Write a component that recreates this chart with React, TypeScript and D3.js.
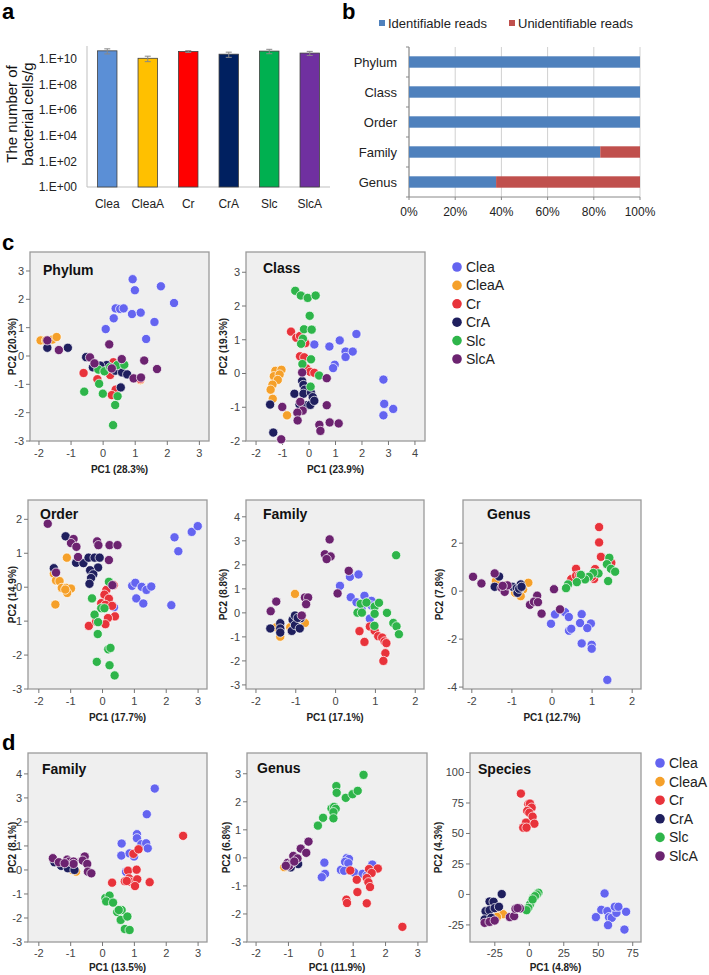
import React from "react";
import * as d3 from "d3";

// ---------- data ----------
const groups = ["Clea", "CleaA", "Cr", "CrA", "Slc", "SlcA"];
const scatterColors = ["#6464F0", "#F5A02A", "#E8333B", "#1F1F5E", "#2EB54A", "#6C2370"];
const barColors = ["#5B8FD6", "#FFC000", "#FF0000", "#002060", "#00B050", "#7030A0"];

// panel a
const cellCounts = [4.2e10, 1.1e10, 3.7e10, 2.3e10, 4.0e10, 2.8e10];
const cellErrors = [1.8e10, 0.5e10, 0.6e10, 1.0e10, 1.5e10, 1.0e10];
const logTicks = [1, 1e2, 1e4, 1e6, 1e8, 1e10];
const logTickLabels = ["1.E+00", "1.E+02", "1.E+04", "1.E+06", "1.E+08", "1.E+10"];

// panel b
const levels = ["Phylum", "Class", "Order", "Family", "Genus"];
const identifiable = [100, 100, 100, 82.8, 37.7];
const unidentifiable = [0, 0, 0, 17.2, 62.3];
const pctTicks = [0, 20, 40, 60, 80, 100];

type P = [string, number, number];

const phylumPoints: P[] = [
  ["Clea", 0.92, 2.71], ["Clea", 0.99, 2.32], ["Clea", 1.8, 2.46], ["Clea", 2.21, 1.87], ["Clea", 0.39, 1.68], ["Clea", 0.53, 1.66], ["Clea", 0.64, 1.68], ["Clea", 0.9, 1.48], ["Clea", 1.17, 1.53], ["Clea", 0.33, 1.33], ["Clea", 1.6, 1.2], ["Clea", 0.08, 0.95], ["Clea", 1.34, 0.6],
  ["CleaA", -1.95, 0.55], ["CleaA", -1.78, 0.55], ["CleaA", -1.58, 0.58], ["CleaA", -1.45, 0.67], ["CleaA", 1.16, -0.85],
  ["Cr", -0.61, -0.6], ["Cr", -0.18, -0.82], ["Cr", -0.09, -0.34], ["Cr", 0.22, -0.67], ["Cr", 0.32, -0.22], ["Cr", 0.39, -1.19], ["Cr", 0.27, -1.38], ["Cr", 1.16, -0.81], ["Cr", 0.48, -0.4],
  ["CrA", -1.74, 0.29], ["CrA", -1.1, 0.29], ["CrA", -0.53, -0.04], ["CrA", -0.32, -0.4], ["CrA", 0.11, -0.32], ["CrA", 0.38, -0.52], ["CrA", 0.59, -0.58], ["CrA", 0.75, -0.65], ["CrA", 0.55, -1.11], ["CrA", -0.09, -0.34],
  ["Slc", -0.15, -0.48], ["Slc", 0.04, -0.54], ["Slc", 0.44, -0.32], ["Slc", 0.66, -0.31], ["Slc", -0.125, -0.98], ["Slc", -0.59, -1.26], ["Slc", -0.01, -1.33], ["Slc", 0.45, -1.42], ["Slc", 0.375, -1.73], ["Slc", 0.31, -2.44], ["Slc", 0.22, -0.4],
  ["SlcA", -1.74, 0.55], ["SlcA", -1.38, 0.21], ["SlcA", 0.19, 0.41], ["SlcA", -0.41, -0.05], ["SlcA", -0.27, -0.26], ["SlcA", 0.58, -0.11], ["SlcA", 1.28, -0.16], ["SlcA", 1.68, -0.46], ["SlcA", 0.95, -0.79], ["SlcA", 1.18, -0.76], ["SlcA", 0.27, -0.44],
];

const classPoints: P[] = [
  ["Clea", 0.2, 0.86], ["Clea", 0.77, 0.8], ["Clea", 1.16, 0.98], ["Clea", 1.38, 0.65], ["Clea", 1.38, 0.49], ["Clea", 1.65, 0.65], ["Clea", 1.79, 1.17], ["Clea", 0.97, 0.26], ["Clea", 0.91, 0.16], ["Clea", 2.81, -0.18], ["Clea", 2.84, -0.9], ["Clea", 3.18, -1.05], ["Clea", 2.81, -1.24],
  ["CleaA", -1.27, 0.08], ["CleaA", -1.04, 0.11], ["CleaA", -1.33, -0.08], ["CleaA", -1.11, -0.03], ["CleaA", -1.18, -0.19], ["CleaA", -1.38, -0.33], ["CleaA", -1.45, -0.48], ["CleaA", -1.37, -0.75], ["CleaA", -0.83, -1.24],
  ["Cr", -0.68, 1.24], ["Cr", -0.48, 1.06], ["Cr", -0.34, 1.11], ["Cr", -0.14, 0.9], ["Cr", -0.34, 0.51], ["Cr", -0.18, 0.48], ["Cr", -0.1, 0.15], ["Cr", 0.04, 0.05], ["Cr", 0.2, 0.02],
  ["CrA", -1.47, -0.92], ["CrA", -0.55, -0.6], ["CrA", -0.26, -0.22], ["CrA", -0.21, -0.34], ["CrA", -0.16, -0.48], ["CrA", -0.21, -0.6], ["CrA", 0.075, -0.57], ["CrA", 0.14, -0.7], ["CrA", -0.36, -0.92], ["CrA", -0.09, -0.94], ["CrA", 0.05, -0.93], ["CrA", 0.2, -0.81], ["CrA", -1.35, -1.75],
  ["Slc", -0.52, 2.45], ["Slc", -0.31, 2.31], ["Slc", -0.05, 2.24], ["Slc", 0.25, 2.31], ["Slc", 0.025, 1.71], ["Slc", -0.19, 1.31], ["Slc", 0.1, 1.3], ["Slc", -0.23, 1.03], ["Slc", -0.3, 0.88], ["Slc", 0.075, 0.42], ["Slc", -0.25, 0.28], ["Slc", 0.38, -0.06], ["Slc", 0.06, -0.39],
  ["SlcA", -0.26, 0.03], ["SlcA", 0.67, -0.14], ["SlcA", -1.01, -0.99], ["SlcA", -0.33, -0.84], ["SlcA", -0.24, -1.1], ["SlcA", -0.44, -1.16], ["SlcA", -0.43, -1.39], ["SlcA", 0.67, -0.94], ["SlcA", 0.39, -1.52], ["SlcA", 0.78, -1.45], ["SlcA", 1.12, -1.48], ["SlcA", -1.05, -1.95], ["SlcA", 0.43, -1.7],
];

const orderPoints: P[] = [
  ["Clea", 0.93, 0.04], ["Clea", 1.03, 0.13], ["Clea", 1.23, 0.01], ["Clea", 1.38, -0.08], ["Clea", 1.53, 0.02], ["Clea", 1.06, -0.33], ["Clea", 1.28, -0.48], ["Clea", 2.16, -0.53], ["Clea", 2.26, 1.47], ["Clea", 2.38, 1.06], ["Clea", 2.8, 1.63], ["Clea", 2.99, 1.8], ["Clea", 0.36, -0.59],
  ["CleaA", -1.12, 0.87], ["CleaA", -1.53, 0.4], ["CleaA", -1.46, 0.2], ["CleaA", -1.35, 0.18], ["CleaA", -1.28, -0.02], ["CleaA", -1.14, -0.02], ["CleaA", -0.99, -0.04], ["CleaA", -1.11, -0.17], ["CleaA", -1.17, -0.07], ["CleaA", -1.48, -0.51],
  ["Cr", 0.12, -0.08], ["Cr", 0.06, -0.22], ["Cr", 0.2, -0.34], ["Cr", -0.04, -0.47], ["Cr", 0.09, -0.52], ["Cr", 0.3, -0.55], ["Cr", 0.39, -0.86], ["Cr", 0.17, -0.91], ["Cr", 0.09, -1.09], ["Cr", -0.43, -1.14], ["Cr", -0.2, -1.01], ["Cr", 0.35, 0.06],
  ["CrA", -1.16, 1.5], ["CrA", -1.53, 0.56], ["CrA", -0.83, 0.72], ["CrA", -0.6, 0.71], ["CrA", -0.44, 0.87], ["CrA", -0.25, 0.87], ["CrA", -0.09, 0.87], ["CrA", -0.14, 0.58], ["CrA", -0.39, 0.5], ["CrA", -0.29, 0.38], ["CrA", -0.36, 0.27], ["CrA", -0.41, 0.1],
  ["Slc", 0.2, 0.16], ["Slc", -0.33, -0.33], ["Slc", -0.04, -0.62], ["Slc", 0.06, -0.62], ["Slc", -0.25, -0.81], ["Slc", -0.14, -1.03], ["Slc", -0.15, -1.38], ["Slc", 0.18, -1.83], ["Slc", 0.25, -1.79], ["Slc", -0.18, -2.2], ["Slc", 0.22, -2.3], ["Slc", 0.38, -2.6],
  ["SlcA", -1.72, 1.87], ["SlcA", -0.91, 1.42], ["SlcA", -0.99, 1.3], ["SlcA", -0.82, 1.19], ["SlcA", -0.77, 0.89], ["SlcA", -0.17, 1.35], ["SlcA", -0.13, 1.24], ["SlcA", 0.22, 1.24], ["SlcA", 0.47, 1.24], ["SlcA", 0.2, 0.8], ["SlcA", -1.46, 0.43], ["SlcA", 0.31, 0.06],
];

const familyCPoints: P[] = [
  ["Clea", 0.36, 1.5], ["Clea", 0.575, 1.6], ["Clea", 0.11, 1.125], ["Clea", 0.38, 0.65], ["Clea", 0.525, 0.44], ["Clea", 0.725, 0.71], ["Clea", 0.8, 0.43], ["Clea", 0.9, 0.5], ["Clea", 0.9, 0.31], ["Clea", 0.86, -0.24], ["Clea", 0.65, 0.19],
  ["CleaA", -1.02, 0.79], ["CleaA", -0.77, -0.42], ["CleaA", -0.95, -0.29], ["CleaA", -1.39, -0.99], ["CleaA", -1.49, -0.6], ["CleaA", -1.14, -0.6],
  ["Cr", 0.86, -0.57], ["Cr", 0.6, -0.76], ["Cr", 0.98, -0.74], ["Cr", 0.725, -1.21], ["Cr", 1.07, -0.97], ["Cr", 1.17, -1.03], ["Cr", 1.23, -1.19], ["Cr", 1.275, -1.26], ["Cr", 1.25, -1.68], ["Cr", 1.2, -2.0],
  ["CrA", -1.64, -0.65], ["CrA", -1.39, -0.43], ["CrA", -1.39, -0.65], ["CrA", -1.39, -0.82], ["CrA", -1.1, -0.75], ["CrA", -1.08, -0.29], ["CrA", -1.02, -0.11], ["CrA", -1.02, -0.51], ["CrA", -0.9, -0.65], ["CrA", -0.875, -0.22], ["CrA", -0.95, -0.21],
  ["Slc", 1.52, 2.4], ["Slc", 0.63, 0.375], ["Slc", 0.775, 0.43], ["Slc", 0.98, 0.26], ["Slc", 1.09, 0.42], ["Slc", 0.55, 0.01], ["Slc", 0.66, 0.01], ["Slc", 0.98, -0.04], ["Slc", 1.29, 0.0], ["Slc", 0.975, -0.54], ["Slc", 1.45, -0.42], ["Slc", 1.53, -0.56], ["Slc", 1.59, -0.89],
  ["SlcA", -0.15, 3.06], ["SlcA", -0.27, 2.44], ["SlcA", -0.125, 2.35], ["SlcA", -0.225, 2.24], ["SlcA", 0.33, 1.75], ["SlcA", 0.05, 0.81], ["SlcA", -1.49, 0.47], ["SlcA", -1.63, 0.07], ["SlcA", -0.77, 0.64], ["SlcA", -0.69, 0.64], ["SlcA", -0.74, 0.36], ["SlcA", -0.85, -0.11],
];

const genusCPoints: P[] = [
  ["Clea", 0.075, -0.97], ["Clea", -0.025, -1.36], ["Clea", 0.325, -0.875], ["Clea", 0.42, -1.08], ["Clea", 0.74, -0.96], ["Clea", 0.7, -1.33], ["Clea", 0.97, -1.35], ["Clea", 0.88, -1.54], ["Clea", 0.425, -1.65], ["Clea", 0.48, -1.57], ["Clea", 0.74, -2.18], ["Clea", 0.99, -2.24], ["Clea", 0.99, -2.4], ["Clea", 1.38, -3.7],
  ["CleaA", -1.4, 0.42], ["CleaA", -0.59, 0.35], ["CleaA", -0.72, 0.07], ["CleaA", -0.78, -0.21], ["CleaA", -0.92, -0.07], ["CleaA", -1.13, 0.25],
  ["Cr", 1.175, 2.67], ["Cr", 1.175, 2.03], ["Cr", 1.22, 1.43], ["Cr", 0.6, 0.93], ["Cr", 0.48, 0.5], ["Cr", 0.6, 0.64], ["Cr", 0.68, 0.67], ["Cr", 1.075, 0.92], ["Cr", 1.05, 0.51], ["Cr", 1.48, 1.18], ["Cr", 1.0, 0.6],
  ["CrA", -1.32, 0.61], ["CrA", -1.43, 0.18], ["CrA", -0.98, 0.18], ["CrA", -0.88, 0.125], ["CrA", -0.78, 0.28], ["CrA", -0.8, 0.11], ["CrA", -0.86, -0.07], ["CrA", -0.82, 0.1], ["CrA", -0.76, 0.18],
  ["Slc", 1.43, 1.39], ["Slc", 1.37, 1.125], ["Slc", 1.47, 0.93], ["Slc", 1.575, 0.81], ["Slc", 1.4, 0.42], ["Slc", 1.16, 0.74], ["Slc", 1.03, 0.76], ["Slc", 0.92, 0.6], ["Slc", 0.825, 0.49], ["Slc", 0.72, 0.68], ["Slc", 0.62, 0.375], ["Slc", 0.4, 0.28], ["Slc", 0.35, 0.125],
  ["SlcA", -1.97, 0.6], ["SlcA", -1.76, 0.32], ["SlcA", -1.43, 0.74], ["SlcA", -1.26, 0.14], ["SlcA", -1.18, -0.03], ["SlcA", -1.11, 0.24], ["SlcA", -0.37, -0.19], ["SlcA", -0.55, -0.57], ["SlcA", -0.45, -0.44], ["SlcA", -0.35, -0.46], ["SlcA", -0.26, -0.94], ["SlcA", 0.05, 0.08], ["SlcA", 0.2, -0.76], ["SlcA", -1.23, 0.22],
];

const familyDPoints: P[] = [
  ["Clea", 1.64, 3.39], ["Clea", 1.39, 2.32], ["Clea", 1.08, 1.49], ["Clea", 1.08, 1.32], ["Clea", 0.6, 1.1], ["Clea", 0.59, 0.6], ["Clea", 0.85, 0.69], ["Clea", 1.22, 1.07], ["Clea", 1.37, 1.11], ["Clea", 1.42, 0.9], ["Clea", 0.99, 0.56], ["Clea", 0.74, -0.08],
  ["CleaA", -0.83, -0.07], ["CleaA", -0.95, 0.0], ["CleaA", -1.04, 0.14],
  ["Cr", 2.53, 1.42], ["Cr", 0.97, 0.67], ["Cr", 1.13, 0.86], ["Cr", 0.8, -0.03], ["Cr", 1.07, 0.01], ["Cr", 0.3, -0.53], ["Cr", 0.7, -0.47], ["Cr", 0.83, -0.35], ["Cr", 0.87, -0.49], ["Cr", 0.76, -0.46], ["Cr", 1.09, -0.39], ["Cr", 1.02, -0.67], ["Cr", 1.48, -0.51],
  ["CrA", -1.51, 0.32], ["CrA", -1.3, 0.17], ["CrA", -1.14, 0.24], ["CrA", -0.99, 0.14], ["CrA", -0.95, 0.07], ["CrA", -1.09, 0.07], ["CrA", -0.88, 0.0],
  ["Slc", 0.09, -1.17], ["Slc", 0.22, -1.07], ["Slc", 0.115, -1.31], ["Slc", 0.33, -1.36], ["Slc", 0.46, -1.75], ["Slc", 0.6, -1.67], ["Slc", 0.51, -1.67], ["Slc", 0.57, -2.08], ["Slc", 0.78, -1.94], ["Slc", 0.7, -2.46], ["Slc", 0.85, -2.5],
  ["SlcA", -1.56, 0.49], ["SlcA", -1.37, 0.32], ["SlcA", -1.11, 0.43], ["SlcA", -1.04, 0.35], ["SlcA", -0.91, 0.35], ["SlcA", -0.91, 0.25], ["SlcA", -0.56, 0.56], ["SlcA", -0.62, 0.39], ["SlcA", -0.48, 0.25], ["SlcA", -0.46, -0.07], ["SlcA", -0.35, -0.14], ["SlcA", -1.19, 0.28],
];

const genusDPoints: P[] = [
  ["Clea", 0.8, -0.01], ["Clea", 0.87, -0.04], ["Clea", 0.75, -0.14], ["Clea", 0.85, -0.19], ["Clea", 0.11, -0.17], ["Clea", 0.13, -0.57], ["Clea", 0.03, -0.69], ["Clea", 0.62, -0.43], ["Clea", 1.03, -0.52], ["Clea", 1.29, -0.57], ["Clea", 1.42, -0.63], ["Clea", 1.59, -0.24], ["Clea", 0.72, -0.46],
  ["CleaA", -1.13, -0.33],
  ["Cr", 0.91, -0.45], ["Cr", 1.49, -0.4], ["Cr", 1.76, -0.38], ["Cr", 1.57, -0.54], ["Cr", 1.42, -0.72], ["Cr", 1.11, -0.78], ["Cr", 1.47, -0.87], ["Cr", 1.52, -1.04], ["Cr", 1.13, -1.22], ["Cr", 0.79, -1.49], ["Cr", 0.81, -1.61], ["Cr", 1.42, -1.62], ["Cr", 2.52, -2.46],
  ["CrA", -0.7, -0.22], ["CrA", -0.93, -0.34],
  ["Slc", 1.32, 2.96], ["Slc", 0.48, 2.56], ["Slc", 0.49, 2.32], ["Slc", 0.77, 2.14], ["Slc", 0.98, 2.27], ["Slc", 1.14, 2.39], ["Slc", 0.33, 1.76], ["Slc", 0.41, 1.82], ["Slc", 0.46, 1.75], ["Slc", 0.39, 1.63], ["Slc", 0.07, 1.43], ["Slc", 0.39, 1.41], ["Slc", -0.09, 1.15],
  ["SlcA", -0.38, 0.58], ["SlcA", -0.62, 0.33], ["SlcA", -0.45, 0.18], ["SlcA", -0.85, 0.07], ["SlcA", -0.72, -0.02], ["SlcA", -1.03, -0.18], ["SlcA", -0.93, -0.21], ["SlcA", -0.98, -0.28], ["SlcA", -1.08, -0.28], ["SlcA", -0.82, -0.13],
];

const speciesPoints: P[] = [
  ["Clea", 54.6, 0.8], ["Clea", 52.2, -12.6], ["Clea", 56.6, -13.7], ["Clea", 48.3, -18.6], ["Clea", 57.8, -18.6], ["Clea", 59.8, -19.2], ["Clea", 63.2, -15.1], ["Clea", 62, -10.1], ["Clea", 64.6, -10.1], ["Clea", 70.2, -14.2], ["Clea", 57.1, -25.2], ["Clea", 69, -28.8],
  ["CleaA", -22, -16.4], ["CleaA", -19, -16.2], ["CleaA", -23.4, -18.4],
  ["Cr", -6.1, 82.7], ["Cr", -0.7, 74], ["Cr", 0.5, 74.5], ["Cr", 1.7, 71.2], ["Cr", -1.5, 68.5], ["Cr", 0, 67], ["Cr", 2.4, 63.8], ["Cr", -2.4, 58.9], ["Cr", 3.7, 58], ["Cr", -4.4, 54.8], ["Cr", -2, 54.8],
  ["CrA", -20, 0.3], ["CrA", -28.8, -5.8], ["CrA", -25.9, -6.0], ["CrA", -31.7, -13.7], ["CrA", -28.8, -12.9], ["CrA", -25.1, -11.2], ["CrA", -22, -10.1], ["CrA", -32.4, -20.5], ["CrA", -27.6, -19.2],
  ["Slc", 6.6, 1.4], ["Slc", 5.4, 0], ["Slc", 2.9, -2.7], ["Slc", 1.7, -5.5], ["Slc", 0.5, -8.2], ["Slc", -0.7, -11], ["Slc", -2, -12.9], ["Slc", 4.1, -1.4], ["Slc", 2.4, -4.1],
  ["SlcA", -32.4, -23.3], ["SlcA", -28.8, -22.5], ["SlcA", -25.1, -21.4], ["SlcA", -14.1, -18.6], ["SlcA", -11, -17.8], ["SlcA", -10, -11.8], ["SlcA", -6.8, -11.5], ["SlcA", -8.5, -11.2],
];

// ---------- components ----------
const FONT = "Arial, 'Liberation Sans', Helvetica, sans-serif";

type ScatterProps = {
  left: number; top: number; width: number; height: number;
  xDomain: [number, number]; yDomain: [number, number];
  xTicks: number[]; yTicks: number[];
  title: string; titleDx: number; titleDy: number;
  xTitle: string; yTitle: string; yTitleX: number;
  points: P[];
  tickDy?: number; xTitleDy?: number;
};

function Scatter(p: ScatterProps) {
  const x = d3.scaleLinear().domain(p.xDomain).range([p.left, p.left + p.width]);
  const y = d3.scaleLinear().domain(p.yDomain).range([p.top + p.height, p.top]);
  const color = d3.scaleOrdinal<string, string>().domain(groups).range(scatterColors);
  const bottom = p.top + p.height;
  const tickDy = p.tickDy ?? 16;
  const xTitleDy = p.xTitleDy ?? 32;
  const sorted = [...p.points].sort((a, b) => groups.indexOf(a[0]) - groups.indexOf(b[0]));
  return (
    <g fontFamily={FONT}>
      <rect x={p.left} y={p.top} width={p.width} height={p.height} fill="#EFEFEF" stroke="#9A9A9A" strokeWidth={1.3} />
      {p.yTicks.map((t) => (
        <g key={"y" + t}>
          <line x1={p.left - 4} x2={p.left} y1={y(t)} y2={y(t)} stroke="#777" />
          <text x={p.left - 6} y={y(t)} dy="0.35em" textAnchor="end" fontSize={11} fill="#444">{t}</text>
        </g>
      ))}
      {p.xTicks.map((t) => (
        <g key={"x" + t}>
          <line x1={x(t)} x2={x(t)} y1={bottom} y2={bottom + 4} stroke="#777" />
          <text x={x(t)} y={bottom + tickDy} textAnchor="middle" fontSize={11} fill="#444">{t}</text>
        </g>
      ))}
      <text x={p.left + p.width / 2} y={bottom + xTitleDy} textAnchor="middle" fontSize={10} fontWeight="bold" fill="#222">{p.xTitle}</text>
      <text transform={`translate(${p.yTitleX},${p.top + p.height / 2}) rotate(-90)`} dy="0.35em" textAnchor="middle" fontSize={10} fontWeight="bold" fill="#222">{p.yTitle}</text>
      <text x={p.left + p.titleDx} y={p.top + p.titleDy} fontSize={14} fontWeight="bold" fill="#111">{p.title}</text>
      {sorted.map((d, i) => (
        <circle key={i} cx={x(d[1])} cy={y(d[2])} r={4.6} fill={color(d[0])} stroke="#ffffff" strokeWidth={0.7} />
      ))}
    </g>
  );
}

function Legend({ x, y, step }: { x: number; y: number; step: number }) {
  return (
    <g fontFamily={FONT}>
      {groups.map((g, i) => (
        <g key={g}>
          <circle cx={x} cy={y + i * step} r={4.8} fill={scatterColors[i]} />
          <text x={x + 9} y={y + i * step} dy="0.35em" fontSize={14} fill="#222">{g}</text>
        </g>
      ))}
    </g>
  );
}

function PanelA() {
  const x = d3.scaleBand<string>().domain(groups).range([87, 330]).paddingInner(0.52).paddingOuter(0.26);
  const y = d3.scaleLog().domain([1, 1e11]).range([187, 46]);
  return (
    <g fontFamily={FONT}>
      <text x={2} y={19} fontSize={22} fontWeight="bold">a</text>
      <text transform="translate(12,114) rotate(-90)" dy="0.35em" textAnchor="middle" fontSize={15} fill="#111">The number of</text>
      <text transform="translate(28,114) rotate(-90)" dy="0.35em" textAnchor="middle" fontSize={15} fill="#111">bacterial cells/g</text>
      <line x1={87} x2={87} y1={46} y2={187} stroke="#BFBFBF" />
      <line x1={87} x2={330} y1={187} y2={187} stroke="#BFBFBF" />
      {logTicks.map((t, i) => (
        <text key={t} x={77} y={y(t)} dy="0.35em" textAnchor="end" fontSize={12} fill="#222">{logTickLabels[i]}</text>
      ))}
      {groups.map((g, i) => {
        const bx = x(g)!;
        const bw = x.bandwidth();
        const top = y(cellCounts[i]);
        const hi = y(cellCounts[i] + cellErrors[i]);
        const lo = y(cellCounts[i] - cellErrors[i]);
        const cx = bx + bw / 2;
        return (
          <g key={g}>
            <rect x={bx} y={top} width={bw} height={187 - top} fill={barColors[i]} stroke="#404040" strokeWidth={0.8} />
            <line x1={cx} x2={cx} y1={hi} y2={lo} stroke="#888" strokeWidth={1} />
            <line x1={cx - 3} x2={cx + 3} y1={hi} y2={hi} stroke="#888" strokeWidth={1} />
            <line x1={cx - 3} x2={cx + 3} y1={lo} y2={lo} stroke="#888" strokeWidth={1} />
            <text x={cx} y={208} textAnchor="middle" fontSize={12} fill="#222">{g}</text>
          </g>
        );
      })}
    </g>
  );
}

function PanelB() {
  const x = d3.scaleLinear().domain([0, 100]).range([409, 640]);
  const y = d3.scaleBand<string>().domain(levels).range([47, 197]).paddingInner(0.62).paddingOuter(0.31);
  const bandStep = 150 / levels.length;
  return (
    <g fontFamily={FONT}>
      <text x={342} y={19} fontSize={22} fontWeight="bold">b</text>
      <rect x={379} y={20} width={6} height={6} fill="#4F81BD" />
      <text x={388} y={23} dy="0.35em" fontSize={13} fill="#222">Identifiable reads</text>
      <rect x={509} y={20} width={6} height={6} fill="#C0504D" />
      <text x={518} y={23} dy="0.35em" fontSize={13} fill="#222">Unidentifiable reads</text>
      {pctTicks.map((t) => (
        <g key={t}>
          <line x1={x(t)} x2={x(t)} y1={47} y2={197} stroke="#D0D0D0" />
          <line x1={x(t)} x2={x(t)} y1={197} y2={200} stroke="#888" />
          <text x={x(t)} y={216} textAnchor="middle" fontSize={12} fill="#222">{t + "%"}</text>
        </g>
      ))}
      <line x1={409} x2={409} y1={47} y2={197} stroke="#888" />
      <line x1={409} x2={640} y1={197} y2={197} stroke="#888" />
      {levels.map((_, i) => (
        <line key={"t" + i} x1={406} x2={409} y1={47 + i * bandStep} y2={47 + i * bandStep} stroke="#888" />
      ))}
      <line x1={406} x2={409} y1={197} y2={197} stroke="#888" />
      {levels.map((l, i) => (
        <g key={l}>
          <rect x={x(0)} y={y(l)!} width={x(identifiable[i]) - x(0)} height={y.bandwidth()} fill="#4F81BD" />
          <rect x={x(identifiable[i])} y={y(l)!} width={x(identifiable[i] + unidentifiable[i]) - x(identifiable[i])} height={y.bandwidth()} fill="#C0504D" />
          <text x={397} y={y(l)! + y.bandwidth() / 2} dy="0.35em" textAnchor="end" fontSize={13} fill="#222">{l}</text>
        </g>
      ))}
    </g>
  );
}

export default function App() {
  return (
    <svg width={709} height={975} style={{ position: "absolute", left: 0, top: 0, background: "#fff" }}>
      <rect width={709} height={975} fill="#fff" />
      <PanelA />
      <PanelB />
      <text x={2} y={250} fontSize={22} fontWeight="bold" fontFamily={FONT}>c</text>
      <text x={2} y={750} fontSize={22} fontWeight="bold" fontFamily={FONT}>d</text>
      <Scatter left={30} top={252} width={179} height={189} xDomain={[-2.28, 3.3]} yDomain={[-3, 3.67]}
        xTicks={[-2, -1, 0, 1, 2, 3]} yTicks={[-3, -2, -1, 0, 1, 2, 3]} title="Phylum" titleDx={13} titleDy={23}
        xTitle="PC1 (28.3%)" yTitle="PC2 (20.3%)" yTitleX={12} points={phylumPoints} />
      <Scatter left={246} top={252} width={179} height={189} xDomain={[-2.38, 4.38]} yDomain={[-2, 3.6]}
        xTicks={[-2, -1, 0, 1, 2, 3, 4]} yTicks={[-2, -1, 0, 1, 2, 3]} title="Class" titleDx={17} titleDy={21}
        xTitle="PC1 (23.9%)" yTitle="PC2 (19.3%)" yTitleX={223} points={classPoints} />
      <Legend x={457} y={267} step={18.4} />
      <Scatter left={28} top={500} width={179} height={189} xDomain={[-2.34, 3.28]} yDomain={[-3, 2.57]}
        xTicks={[-2, -1, 0, 1, 2, 3]} yTicks={[-3, -2, -1, 0, 1, 2]} title="Order" titleDx={12} titleDy={19}
        xTitle="PC1 (17.7%)" yTitle="PC2 (14.9%)" yTitleX={12} points={orderPoints} />
      <Scatter left={246} top={500} width={178} height={189} xDomain={[-2.25, 2.22]} yDomain={[-3.17, 4.7]}
        xTicks={[-2, -1, 0, 1, 2]} yTicks={[-3, -2, -1, 0, 1, 2, 3, 4]} title="Family" titleDx={17} titleDy={19}
        xTitle="PC1 (17.1%)" yTitle="PC2 (8.8%)" yTitleX={223} points={familyCPoints} />
      <Scatter left={463} top={500} width={178} height={189} xDomain={[-2.22, 2.22]} yDomain={[-4.08, 3.8]}
        xTicks={[-2, -1, 0, 1, 2]} yTicks={[-4, -2, 0, 2]} title="Genus" titleDx={24} titleDy={19}
        xTitle="PC1 (12.7%)" yTitle="PC2 (7.8%)" yTitleX={439} points={genusCPoints} />
      <Scatter left={28} top={753} width={179} height={189} xDomain={[-2.34, 3.28]} yDomain={[-3, 4.87]}
        xTicks={[-2, -1, 0, 1, 2, 3]} yTicks={[-3, -2, -1, 0, 1, 2, 3, 4]} title="Family" titleDx={14} titleDy={21}
        xTitle="PC1 (13.5%)" yTitle="PC2 (8.1%)" yTitleX={12} points={familyDPoints} tickDy={15} xTitleDy={29} />
      <Scatter left={247} top={753} width={180} height={189} xDomain={[-2.28, 3.28]} yDomain={[-3, 3.74]}
        xTicks={[-2, -1, 0, 1, 2, 3]} yTicks={[-3, -2, -1, 0, 1, 2, 3]} title="Genus" titleDx={10} titleDy={20}
        xTitle="PC1 (11.9%)" yTitle="PC2 (6.8%)" yTitleX={226} points={genusDPoints} tickDy={15} xTitleDy={29} />
      <Scatter left={470} top={753} width={171} height={189} xDomain={[-43, 81]} yDomain={[-39, 116]}
        xTicks={[-25, 0, 25, 50, 75]} yTicks={[-25, 0, 25, 50, 75, 100]} title="Species" titleDx={8} titleDy={21}
        xTitle="PC1 (4.8%)" yTitle="PC2 (4.3%)" yTitleX={438} points={speciesPoints} tickDy={15} xTitleDy={29} />
      <Legend x={660} y={763} step={18.6} />
    </svg>
  );
}
